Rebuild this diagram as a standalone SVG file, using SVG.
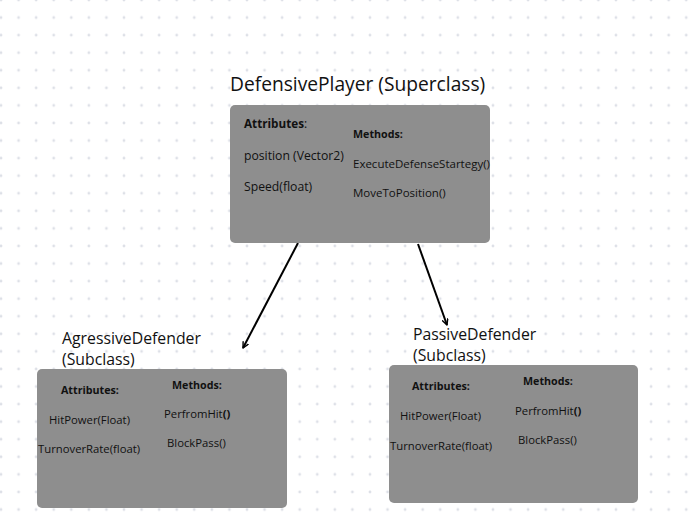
<svg xmlns="http://www.w3.org/2000/svg" width="697" height="523" viewBox="0 0 697 523">
<defs>
<pattern id="dots" x="1" y="0" width="17.57" height="17.57" patternUnits="userSpaceOnUse">
<circle cx="0" cy="0" r="1.4" fill="#dde0e7"/>
<circle cx="17.57" cy="0" r="1.4" fill="#dde0e7"/>
<circle cx="0" cy="17.57" r="1.4" fill="#dde0e7"/>
<circle cx="17.57" cy="17.57" r="1.4" fill="#dde0e7"/>
</pattern>
<marker id="arr" viewBox="0 0 10 10" refX="9" refY="5" markerWidth="7" markerHeight="7" orient="auto" markerUnits="userSpaceOnUse">
<path d="M1,1 L9,5 L1,9" fill="none" stroke="#000" stroke-width="2" stroke-linecap="round" stroke-linejoin="round"/>
</marker>
<style>
.box{fill:#8e8e8e;}
.title{font-family:"Open Sans","Noto Sans",sans-serif;fill:#111;}
.t{font-family:"Open Sans","Noto Sans",sans-serif;fill:#111;font-size:11.3px;}
.b{font-weight:bold;font-size:10.7px;}
.conn{stroke:#000;stroke-width:2;fill:none;}
</style>
</defs>
<rect width="697" height="523" fill="#ffffff"/>
<rect width="697" height="523" fill="url(#dots)"/>

<g id="connectors">
<line class="conn" x1="298" y1="243" x2="243" y2="348" marker-end="url(#arr)"/>
<line class="conn" x1="418" y1="244" x2="447" y2="325" marker-end="url(#arr)"/>
</g>

<g id="DefensivePlayer">
<text class="title" x="230" y="91" font-size="19.2">DefensivePlayer (Superclass)</text>
<rect class="box" x="230" y="105" width="260" height="138" rx="5"/>
<text class="t" x="244" y="128" style="font-size:12px"><tspan class="b" style="font-size:11.7px">Attributes</tspan>:</text>
<text class="t b" x="353" y="138" style="font-size:10.7px">Methods:</text>
<text class="t" x="244" y="160" style="font-size:12.2px">position (Vector2)</text>
<text class="t" x="244" y="191" style="font-size:12.2px">Speed(float)</text>
<text class="t" x="353" y="168" style="font-size:11.5px">ExecuteDefenseStartegy()</text>
<text class="t" x="353" y="197" style="font-size:11.5px">MoveToPosition()</text>
</g>

<g id="AgressiveDefender">
<text class="title" x="62" y="344" font-size="15.8">AgressiveDefender</text>
<text class="title" x="62" y="365" font-size="15.8">(Subclass)</text>
<rect class="box" x="37" y="369" width="250" height="139" rx="5"/>
<text class="t b" x="61" y="394">Attributes:</text>
<text class="t b" x="172" y="389">Methods:</text>
<text class="t" x="49" y="424">HitPower(Float)</text>
<text class="t" x="38" y="453">TurnoverRate(float)</text>
<text class="t" x="164" y="418">PerfromHit<tspan class="b" style="font-size:11.3px">()</tspan></text>
<text class="t" x="167" y="447">BlockPass()</text>
</g>

<g id="PassiveDefender">
<text class="title" x="413" y="340" font-size="15.8">PassiveDefender</text>
<text class="title" x="413" y="361" font-size="15.8">(Subclass)</text>
<rect class="box" x="389" y="365" width="249" height="138" rx="5"/>
<text class="t b" x="412" y="390">Attributes:</text>
<text class="t b" x="523" y="385">Methods:</text>
<text class="t" x="400" y="420">HitPower(Float)</text>
<text class="t" x="390" y="450">TurnoverRate(float)</text>
<text class="t" x="515" y="415">PerfromHit<tspan class="b" style="font-size:11.3px">()</tspan></text>
<text class="t" x="518" y="444">BlockPass()</text>
</g>
</svg>
